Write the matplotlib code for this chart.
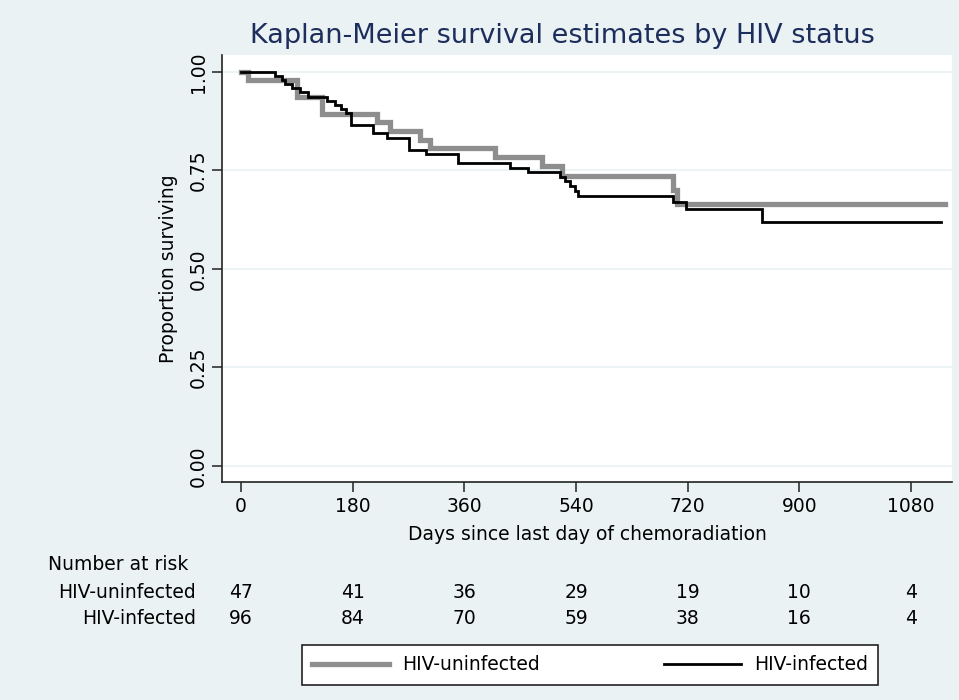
import matplotlib
matplotlib.use("Agg")
import matplotlib.pyplot as plt
import matplotlib.transforms as mtransforms

# ---------------- data ----------------
uninf_times = [0, 11, 90, 130, 219, 240, 289, 305, 409, 485, 517, 697, 703, 1135]
uninf_surv = [1.0, 0.979, 0.936, 0.894, 0.872, 0.849, 0.826, 0.806, 0.784, 0.761, 0.736, 0.700, 0.664, 0.664]

inf_times = [0, 55, 66, 71, 82, 95, 108, 138, 152, 162, 170, 178, 213, 235, 270, 299,
             350, 434, 463, 514, 522, 530, 538, 543, 697, 718, 839, 1129]
inf_surv = [1.0, 0.990, 0.979, 0.969, 0.958, 0.948, 0.937, 0.927, 0.917, 0.906, 0.896,
            0.865, 0.844, 0.833, 0.802, 0.791, 0.769, 0.757, 0.745, 0.733, 0.722, 0.710,
            0.698, 0.684, 0.671, 0.652, 0.619, 0.619]

x_ticks = [0, 180, 360, 540, 720, 900, 1080]
y_ticks = [0.0, 0.25, 0.5, 0.75, 1.0]
y_tick_labels = ["0.00", "0.25", "0.50", "0.75", "1.00"]

risk_times = [0, 180, 360, 540, 720, 900, 1080]
risk_uninf = [47, 41, 36, 29, 19, 10, 4]
risk_inf = [96, 84, 70, 59, 38, 16, 4]

series_names = ["HIV-uninfected", "HIV-infected"]

# ---------------- style ----------------
BG = "#EAF2F3"
NAVY = "#1E2E5C"
GRAY = "#8E8E8E"
FS = 13.5

plt.rcParams["font.family"] = ["DejaVu Sans"]

fig = plt.figure(figsize=(9.59, 7.0), dpi=100, facecolor=BG)
ax = fig.add_axes([222 / 959, 1 - 482 / 700, (952 - 222) / 959, (482 - 55) / 700])
ax.set_facecolor("white")

for y in y_ticks:
    ax.axhline(y, color=BG, lw=1.2, zorder=0)

ax.step(uninf_times, uninf_surv, where="post", color=GRAY, lw=3.8,
        label=series_names[0], zorder=2, solid_joinstyle="miter")
ax.step(inf_times, inf_surv, where="post", color="black", lw=2.0,
        label=series_names[1], zorder=3, solid_joinstyle="miter")

ax.set_xlim(-30.6, 1146)
ax.set_ylim(-0.041, 1.043)

ax.set_xticks(x_ticks)
ax.set_xticklabels([str(t) for t in x_ticks], fontsize=FS)
ax.set_yticks(y_ticks)
ax.set_yticklabels(y_tick_labels, fontsize=FS, rotation=90, va="center")

for s in ["top", "right"]:
    ax.spines[s].set_visible(False)
for s in ["left", "bottom"]:
    ax.spines[s].set_color("#222222")
    ax.spines[s].set_linewidth(1.2)
ax.tick_params(axis="both", length=7, width=1.1, color="#222222", pad=4)
ax.tick_params(axis="y", pad=3)

ax.set_xlabel("Days since last day of chemoradiation", fontsize=FS, labelpad=6)
ax.set_ylabel("Proportion surviving", fontsize=FS, labelpad=8)

fig.text(562 / 959, 1 - 36 / 700, "Kaplan-Meier survival estimates by HIV status",
         ha="center", va="center", fontsize=19.5, color=NAVY)

# number at risk table
trans = mtransforms.blended_transform_factory(ax.transData, fig.transFigure)
fig.text(48 / 959, 1 - 565 / 700, "Number at risk", ha="left", va="center", fontsize=FS)
fig.text(196 / 959, 1 - 592 / 700, series_names[0], ha="right", va="center", fontsize=FS)
fig.text(196 / 959, 1 - 618 / 700, series_names[1], ha="right", va="center", fontsize=FS)
for t, a, b in zip(risk_times, risk_uninf, risk_inf):
    ax.text(t, 1 - 592 / 700, str(a), transform=trans, ha="center", va="center", fontsize=FS)
    ax.text(t, 1 - 618 / 700, str(b), transform=trans, ha="center", va="center", fontsize=FS)

# legend
handles, labels = ax.get_legend_handles_labels()
leg = fig.legend(handles, labels, ncol=2, mode="expand",
                 bbox_to_anchor=(302 / 959, 1 - 688 / 700, 576 / 959, 46 / 700),
                 loc="center", fontsize=FS, frameon=True, fancybox=False,
                 edgecolor="#222222", facecolor="white", framealpha=1,
                 handlelength=4.1, handletextpad=0.7, borderpad=0.55,
                 columnspacing=4.0, borderaxespad=0)
leg.get_frame().set_linewidth(1.2)

fig.savefig("out.png", dpi=100, facecolor=BG)
